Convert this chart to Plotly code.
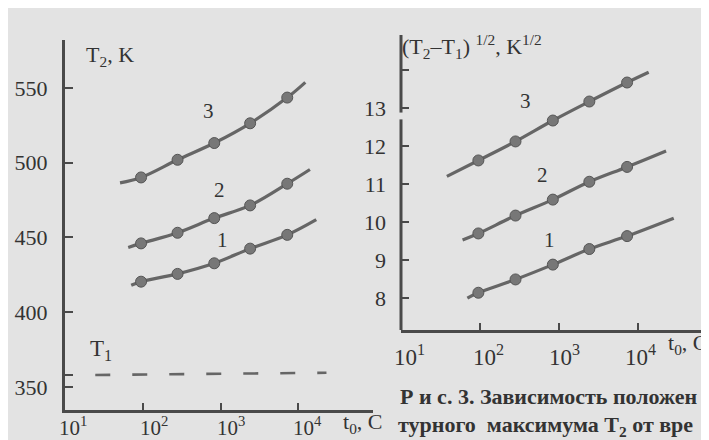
import plotly.graph_objects as go

# ---------------- data ----------------
t_points = [95, 280, 830, 2400, 7200]          # t0, C

# left panel: T2, K
T2_curve1 = [420.4, 425.6, 432.7, 442.5, 451.7]
T2_curve2 = [446.0, 453.1, 462.9, 471.4, 485.9]
T2_curve3 = [490.1, 501.9, 513.1, 526.3, 543.5]
# fitted lines extend beyond the points (start / end)
T2_line_t_start = [71, 65, 51]
T2_line_t_end = [17000, 14100, 12300]
T2_line_start = [418.0, 443.3, 486.5]
T2_line_end = [461.9, 495.4, 553.7]

# T1 dashed level
T1_t = [24.5, 23000]
T1_val = [358.0, 359.5]

# right panel: (T2-T1)^1/2, K^1/2
S_curve1 = [8.14, 8.49, 8.88, 9.29, 9.63]
S_curve2 = [9.70, 10.17, 10.59, 11.06, 11.45]
S_curve3 = [11.62, 12.12, 12.67, 13.17, 13.67]
S_line_t_start = [69, 60, 38]
S_line_t_end = [28000, 22400, 13500]
S_line_start = [8.0, 9.53, 11.2]
S_line_end = [10.1, 11.87, 13.94]

x_tickvals = [10, 100, 1000, 10000]
x_ticktext = ["10<sup>1</sup>", "10<sup>2</sup>", "10<sup>3</sup>", "10<sup>4</sup>"]
left_y_tickvals = [350, 400, 450, 500, 550]
left_y_minor = [358]
right_y_tickvals = [8, 9, 10, 11, 12, 13]
right_y_minor = [14]
curve_names = ["1", "2", "3"]

# ---------------- styling ----------------
W, H = 709, 440
BG = "#e3e3e3"
INK = "#4a4a4a"
LINE = "#666666"
MARK = "#777777"
FONT = "Liberation Serif"
TXT = "#333333"


def px(x):
    return x / W


def py(y):
    return 1 - y / H


fig = go.Figure()

left_curves = [T2_curve1, T2_curve2, T2_curve3]
right_curves = [S_curve1, S_curve2, S_curve3]

for i, c in enumerate(left_curves):
    fig.add_trace(go.Scatter(
        x=[T2_line_t_start[i]] + t_points + [T2_line_t_end[i]],
        y=[T2_line_start[i]] + c + [T2_line_end[i]],
        mode="lines", line=dict(color=LINE, width=3.2, shape="spline"),
        xaxis="x", yaxis="y", showlegend=False, hoverinfo="skip"))
    fig.add_trace(go.Scatter(
        x=t_points, y=c, mode="markers", name=curve_names[i],
        marker=dict(size=11, color=MARK, line=dict(color="#555555", width=1)),
        xaxis="x", yaxis="y", showlegend=False))

fig.add_trace(go.Scatter(
    x=T1_t, y=T1_val, mode="lines",
    line=dict(color=LINE, width=2.6, dash="15px,22px"),
    xaxis="x", yaxis="y", showlegend=False, hoverinfo="skip"))

for i, c in enumerate(right_curves):
    fig.add_trace(go.Scatter(
        x=[S_line_t_start[i]] + t_points + [S_line_t_end[i]],
        y=[S_line_start[i]] + c + [S_line_end[i]],
        mode="lines", line=dict(color=LINE, width=3.2, shape="spline"),
        xaxis="x2", yaxis="y2", showlegend=False, hoverinfo="skip"))
    fig.add_trace(go.Scatter(
        x=t_points, y=c, mode="markers", name=curve_names[i],
        marker=dict(size=11, color=MARK, line=dict(color="#555555", width=1)),
        xaxis="x2", yaxis="y2", showlegend=False))

axis_common = dict(showgrid=False, zeroline=False, linecolor=INK, linewidth=3,
                   ticks="inside", tickcolor=INK, tickwidth=2,
                   tickfont=dict(family=FONT, size=22, color=TXT))

fig.update_layout(
    width=W, height=H,
    margin=dict(l=0, r=0, t=0, b=0),
    paper_bgcolor=BG, plot_bgcolor=BG,
    font=dict(family=FONT, color=TXT),
    xaxis=dict(**axis_common, type="log", range=[1.0, 4.96],
               domain=[px(57), px(365)], anchor="y", showline=True,
               tickvals=x_tickvals[1:], showticklabels=False, ticklen=7),
    yaxis=dict(**axis_common, range=[334.6, 582], domain=[py(402), py(32)],
               anchor="x", showline=True, ticklen=8, ticklabelstandoff=10,
               tickvals=left_y_tickvals,
               minor=dict(tickvals=left_y_minor, ticks="inside", ticklen=8,
                          tickwidth=2, tickcolor=INK, showgrid=False)),
    xaxis2=dict(**axis_common, type="log", range=[1.0, 4.88],
                domain=[px(393), px(700)], anchor="y2", showline=True,
                tickvals=x_tickvals[1:], showticklabels=False, ticklen=7),
    yaxis2=dict(**axis_common, range=[7.16, 14.92], domain=[py(322), py(27)],
                anchor="x2", showline=False, ticklen=8, ticklabelstandoff=14,
                tickvals=right_y_tickvals,
                minor=dict(tickvals=right_y_minor, ticks="inside", ticklen=8,
                           tickwidth=2, tickcolor=INK, showgrid=False)),
)

# right y-axis drawn with its break
fig.add_shape(type="line", xref="x2 domain", yref="y2", x0=0, x1=0,
              y0=7.16, y1=12.7, line=dict(color=INK, width=3))
fig.add_shape(type="line", xref="x2 domain", yref="y2", x0=0, x1=0,
              y0=12.88, y1=14.92, line=dict(color=INK, width=3))

ann = []


def label(text, x, y, size=21, xanchor="center", yanchor="middle"):
    ann.append(dict(text=text, x=px(x), y=py(y), xref="paper", yref="paper",
                    showarrow=False, xanchor=xanchor, yanchor=yanchor,
                    font=dict(family=FONT, size=size, color=TXT)))


# x tick labels (placed below the axes)
left_x_px = [57, 138, 215, 291]
right_x_px = [395, 475, 550, 626]
for i, t in enumerate(x_ticktext):
    label(t, left_x_px[i] + 8, 434, size=21, yanchor="bottom")
    label(t, right_x_px[i] + 6, 347, size=23)

label("T<sub>2</sub>, K", 76, 48, size=22, xanchor="left")
label("(T<sub>2</sub>–T<sub>1</sub>) <sup>1/2</sup>, K<sup>1/2</sup>", 392, 38,
      size=22, xanchor="left")
label("T<sub>1</sub>", 80, 342, size=23, xanchor="left")
label("t<sub>0</sub>, C", 333, 415, size=22, xanchor="left")
label("t<sub>0</sub>, C", 658, 336, size=22, xanchor="left")

label("3", 200, 103, size=21)
label("2", 212, 182, size=21)
label("1", 215, 232, size=21)
label("3", 517, 93, size=21)
label("2", 534, 167, size=21)
label("1", 541, 232, size=21)

label("<b>Р и с. 3. Зависимость положен</b>", 390, 388, size=22, xanchor="left")
label("<b>турного  максимума T<sub>2</sub> от вре</b>", 388, 418, size=22,
      xanchor="left")

fig.update_layout(annotations=ann)

fig.write_html("out.html")
